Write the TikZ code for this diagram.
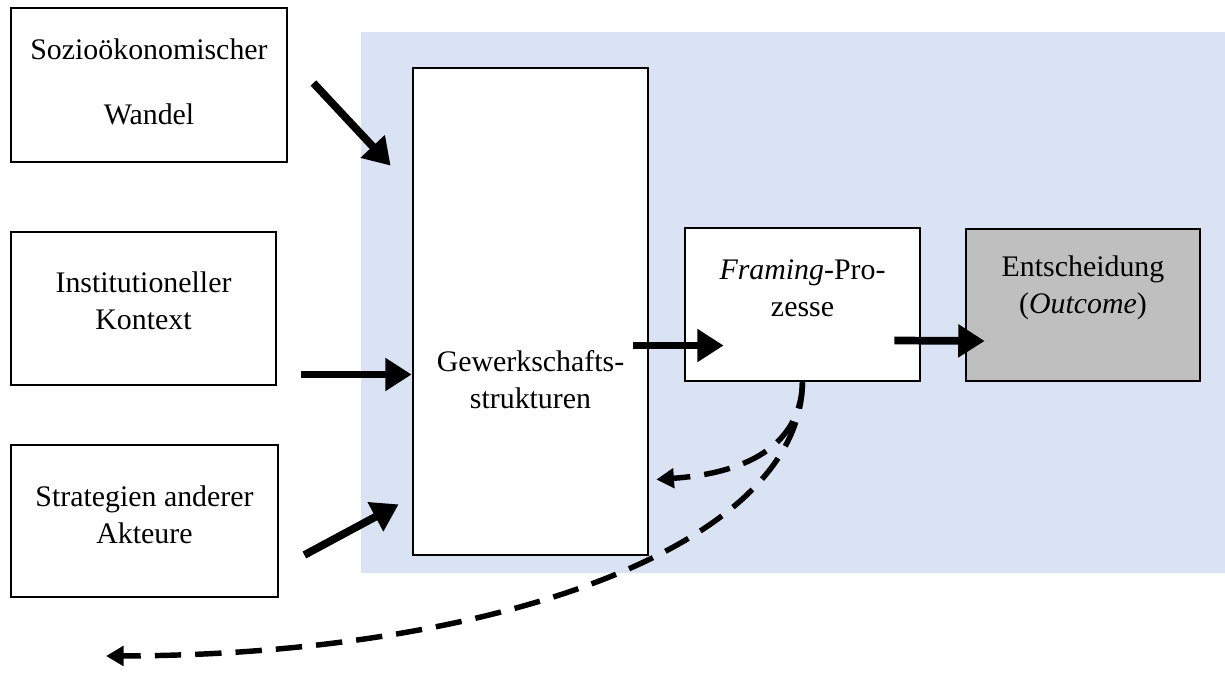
\documentclass[tikz,border=0pt]{standalone}
\usepackage{fontspec}
\setmainfont{Liberation Serif}
\usetikzlibrary{arrows.meta,calc}

\definecolor{panelblue}{RGB}{218,227,243}
\definecolor{outgrey}{RGB}{191,191,191}

\tikzset{
  box/.style={draw,line width=1.6pt,inner sep=0pt},
  lab/.style={align=center,inner sep=0pt},
  bigarrow/.style={line width=4.4pt,-{Triangle[length=15pt,width=18pt]}},
  backarrow/.style={line width=3.1pt,dash pattern=on 15pt off 8pt,-{Triangle[length=10pt,width=11pt]}},
}

\begin{document}
\begin{tikzpicture}[x=0.02cm,y=-0.02cm,font=\fontsize{17}{21}\selectfont]
\useasboundingbox (0,0) rectangle (1225,686);
\fill[panelblue] (361,32) rectangle (1225,573);

% linke Seite
\node[box,minimum width=5.52cm,minimum height=3.08cm,
  label={[lab,yshift=0.06cm]center:{Sozioökonomischer\\[16pt]Wandel}}] (sozio) at (149,85) {};
\node[box,minimum width=5.30cm,minimum height=3.06cm,
  label={[lab,yshift=0.15cm]center:{Institutioneller\\Kontext}}] (inst) at (143.5,308.5) {};
\node[box,minimum width=5.34cm,minimum height=3.04cm,
  label={[lab,yshift=0.12cm]center:{Strategien anderer\\Akteure}}] (strat) at (144.5,521) {};

% Kasten im Feld
\node[box,fill=white,minimum width=4.70cm,minimum height=9.74cm,
  label={[lab,yshift=-1.36cm]center:{Gewerkschafts-\\strukturen}}] (gew) at (530.5,311.5) {};
\node[box,fill=white,minimum width=4.70cm,minimum height=3.06cm,
  label={[lab,yshift=0.33cm]center:{\textit{Framing}-Pro-\\zesse}}] (framing) at (802.5,304.5) {};
\node[box,fill=outgrey,minimum width=4.68cm,minimum height=3.04cm,
  label={[lab,yshift=0.34cm]center:{Entscheidung\\(\textit{Outcome})}}] (entsch) at (1083,305) {};

\coordinate (back) at (106,656);

\draw[bigarrow] ($(sozio.east)+(25,-2)$) -- ($(gew.north west)+(-21,99)$);
\draw[bigarrow] ($(inst.east)+(24,66)$) -- ($(gew.west)+(0,63)$);
\draw[bigarrow] ($(strat.east)+(25,34)$) -- ($(gew.south west)+(-13,-52)$);
\draw[bigarrow] ($(gew.east)+(-16,34)$) -- ($(framing.west)+(40,41)$);
\draw[bigarrow] ($(framing.east)+(-27,36)$) -- ($(entsch.west)+(20,36)$);

% Rueckwirkungen
\draw[backarrow] (framing.south) .. controls (800,460) and (720,475) .. ($(gew.east)+(7,168)$);
\draw[backarrow] (framing.south) .. controls (800,548) and (490,655) .. (back);
\end{tikzpicture}
\end{document}
